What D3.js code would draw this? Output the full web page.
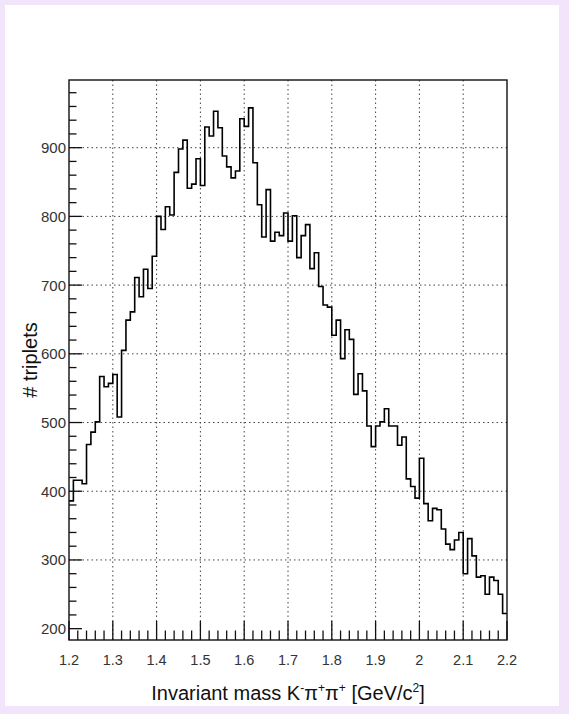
<!DOCTYPE html>
<html><head><meta charset="utf-8">
<script src="https://cdn.jsdelivr.net/npm/d3@7"></script>
<style>html,body{margin:0;padding:0;background:#f1e4fb;} svg{display:block;}</style>
</head><body>
<svg id="c" width="569" height="714"></svg>
<script>
// Histogram: 100 bins of width 0.01 from 1.2 to 2.2 GeV/c^2
const binRange = [1.2, 2.2];
const counts = [
  386, 416, 416, 411, 468, 486, 501, 567, 552, 557,
  570, 508, 605, 649, 661, 711, 683, 723, 695, 742,
  800, 781, 814, 802, 864, 898, 911, 841, 847, 884,
  845, 930, 917, 953, 929, 888, 872, 856, 866, 942,
  931, 958, 878, 817, 770, 839, 764, 777, 772, 805,
  764, 801, 740, 772, 788, 724, 747, 698, 671, 668,
  627, 649, 593, 635, 621, 541, 571, 546, 495, 465,
  495, 501, 520, 495, 495, 467, 479, 418, 407, 390,
  448, 382, 357, 375, 373, 345, 323, 315, 329, 340,
  280, 331, 306, 275, 277, 250, 275, 270, 250, 222
];
const xTickValues = [1.2, 1.3, 1.4, 1.5, 1.6, 1.7, 1.8, 1.9, 2.0, 2.1, 2.2];
const xTickLabels = ["1.2", "1.3", "1.4", "1.5", "1.6", "1.7", "1.8", "1.9", "2", "2.1", "2.2"];
const yTickValues = [200, 300, 400, 500, 600, 700, 800, 900];
const yTickLabels = ["200", "300", "400", "500", "600", "700", "800", "900"];
const yDomain = [183.5, 998.5];
const yTitle = "# triplets";

const FONT = "'Liberation Sans', Arial, Helvetica, sans-serif";
const svg = d3.select("#c");
svg.append("rect").attr("x", 0).attr("y", 0).attr("width", 569).attr("height", 714).attr("fill", "#f1e4fb");
svg.append("rect").attr("x", 5).attr("y", 5).attr("width", 554).attr("height", 701).attr("fill", "#ffffff");

const L = 69, R = 507, T = 80, B = 640;
const x = d3.scaleLinear().domain(binRange).range([L, R]);
const y = d3.scaleLinear().domain(yDomain).range([B, T]);

// grid
const g = svg.append("g");
const gridX = xTickValues.filter(v => v > binRange[0] + 1e-9 && v < binRange[1] - 1e-9);
g.selectAll("line.gx").data(gridX).join("line")
  .attr("x1", d => x(d)).attr("x2", d => x(d)).attr("y1", T).attr("y2", B)
  .attr("stroke", "#444").attr("stroke-width", 1).attr("stroke-dasharray", "1.5,3");
g.selectAll("line.gy").data(yTickValues.filter(v => v > 200)).join("line")
  .attr("x1", L).attr("x2", R).attr("y1", d => y(d)).attr("y2", d => y(d))
  .attr("stroke", "#444").attr("stroke-width", 1).attr("stroke-dasharray", "1.5,3");

// histogram
const nb = counts.length;
const edges = d3.range(nb + 1).map(i => binRange[0] + (binRange[1] - binRange[0]) * i / nb);
const pts = counts.map((c, i) => [edges[i], c]);
pts.push([edges[nb], counts[nb - 1]]);
const line = d3.line().x(d => x(d[0])).y(d => y(d[1])).curve(d3.curveStepAfter);
svg.append("path").attr("d", line(pts)).attr("fill", "none")
  .attr("stroke", "#000").attr("stroke-width", 1.6).attr("stroke-linejoin", "miter");

// frame
svg.append("rect").attr("x", L).attr("y", T).attr("width", R - L).attr("height", B - T)
  .attr("fill", "none").attr("stroke", "#111").attr("stroke-width", 1.4);

// y axis ticks
const yMinor = d3.range(200, 1000, 20).filter(v => v >= yDomain[0] && v <= yDomain[1]);
svg.append("g").selectAll("line").data(yMinor).join("line")
  .attr("x1", L).attr("x2", d => L + (d % 100 === 0 ? 13 : 7.5))
  .attr("y1", d => y(d)).attr("y2", d => y(d))
  .attr("stroke", "#111").attr("stroke-width", 1.3);
// x axis ticks
const xMinor = d3.range(0, 51).map(i => binRange[0] + i * 0.02);
svg.append("g").selectAll("line").data(xMinor).join("line")
  .attr("x1", d => x(d)).attr("x2", d => x(d))
  .attr("y1", B).attr("y2", (d, i) => B - (i % 5 === 0 ? 19 : 9.5))
  .attr("stroke", "#111").attr("stroke-width", 1.3);

// labels
svg.append("g").selectAll("text").data(yTickValues).join("text")
  .attr("x", 66).attr("y", d => y(d)).attr("dy", "0.36em")
  .attr("text-anchor", "end").attr("font-family", FONT).attr("font-size", 15)
  .attr("fill", "#333").text((d, i) => yTickLabels[i]);
svg.append("g").selectAll("text").data(xTickValues).join("text")
  .attr("x", d => x(d)).attr("y", 665)
  .attr("text-anchor", "middle").attr("font-family", FONT).attr("font-size", 14.5)
  .attr("fill", "#333").text((d, i) => xTickLabels[i]);

// x title
const xt = svg.append("text").attr("x", (L + R) / 2).attr("y", 700)
  .attr("text-anchor", "middle").attr("font-family", FONT).attr("font-size", 20).attr("fill", "#111");
const parts = [["Invariant mass K", 0], ["-", 1], ["\u03c0", 0], ["+", 1], ["\u03c0", 0], ["+", 1], [" [GeV/c", 0], ["2", 1], ["]", 0]];
let prevSup = 0;
parts.forEach(([t, s]) => {
  const ts = xt.append("tspan").text(t);
  if (s) ts.attr("font-size", 12);
  const dy = (s ? -8 : 0) - (prevSup ? -8 : 0);
  if (dy !== 0) ts.attr("dy", dy);
  prevSup = s;
});

// y title
svg.append("text").attr("transform", `translate(37,${(T + B) / 2}) rotate(-90)`)
  .attr("text-anchor", "middle").attr("font-family", FONT).attr("font-size", 20).attr("fill", "#111")
  .text(yTitle);
</script>
</body></html>
